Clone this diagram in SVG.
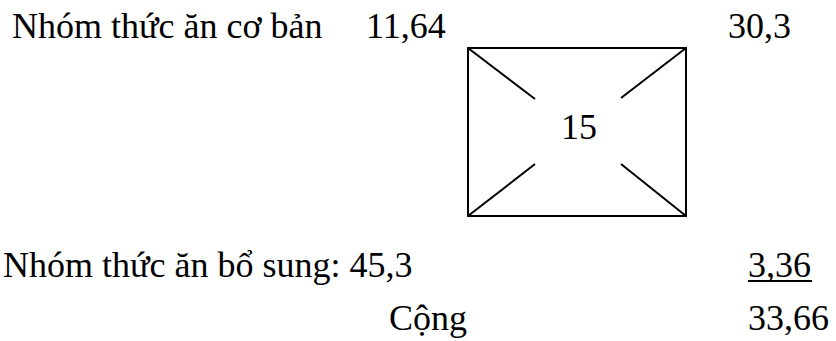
<svg xmlns="http://www.w3.org/2000/svg" width="836" height="341" viewBox="0 0 836 341">
<style>
.ln{stroke:#000;stroke-width:2;fill:none}
</style>
<rect width="836" height="341" fill="#fff"/>
<g id="labels">
<text x="12" y="38" font-family="Liberation Serif" font-size="36">Nhóm thức ăn cơ bản</text>
<text x="366" y="38" font-family="Liberation Serif" font-size="36">11,64</text>
<text x="728" y="38" font-family="Liberation Serif" font-size="36">30,3</text>
<text x="3" y="277" font-family="Liberation Serif" font-size="36">Nhóm thức ăn bổ sung: 45,3</text>
<text x="748" y="277" font-family="Liberation Serif" font-size="36">3,36</text>
<line class="ln" x1="748" y1="281" x2="812" y2="281"/>
<text x="389" y="330" font-family="Liberation Serif" font-size="36">Cộng</text>
<text x="748" y="330" font-family="Liberation Serif" font-size="36">33,66</text>
</g>
<g id="box">
<rect class="ln" x="468" y="48" width="218" height="168"/>
<text x="579" y="139" text-anchor="middle" font-family="Liberation Serif" font-size="36">15</text>
</g>
<g id="connectors">
<line class="ln" x1="468" y1="48" x2="535" y2="99"/>
<line class="ln" x1="686" y1="48" x2="621" y2="98"/>
<line class="ln" x1="468" y1="216" x2="535" y2="164"/>
<line class="ln" x1="686" y1="216" x2="621" y2="164"/>
</g>
</svg>
